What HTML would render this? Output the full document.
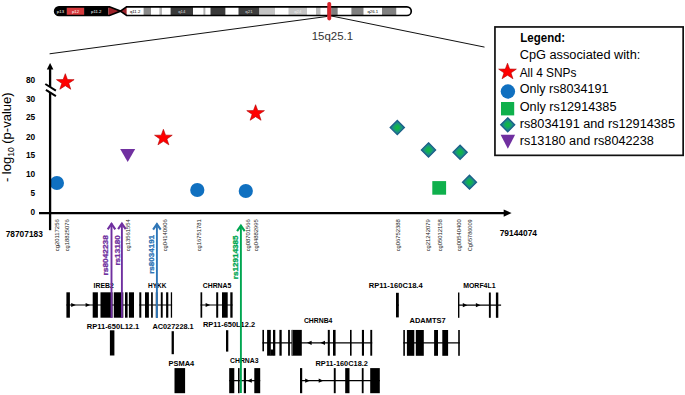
<!DOCTYPE html><html><head><meta charset="utf-8"><style>html,body{margin:0;padding:0;background:#fff;width:685px;height:395px;overflow:hidden}svg{display:block}text{font-family:"Liberation Sans",sans-serif}</style></head><body>
<svg width="685" height="395" viewBox="0 0 685 395">
<rect width="685" height="395" fill="#fff"/>
<defs><radialGradient id="dg" cx="0.5" cy="0.5" r="0.5"><stop offset="0" stop-color="#0fba48"/><stop offset="0.22" stop-color="#12b44b"/><stop offset="0.62" stop-color="#1a9184"/><stop offset="1" stop-color="#1c6f8e"/></radialGradient></defs>
<defs><clipPath id="chr"><path d="M59,6.8 H109.5 L120.4,11.1 L126.6,6.8 H406.9 A4.35,4.35 0 0 1 406.9,15.5 H126.6 L120.4,11.1 L109.5,15.5 H59 A4.35,4.35 0 0 1 59,6.8 Z"/></clipPath></defs>
<g clip-path="url(#chr)">
<rect x="54" y="5" width="12.90" height="12" fill="#000"/>
<rect x="66.9" y="5" width="17.20" height="12" fill="#d63a3d"/>
<rect x="84.1" y="5" width="24.30" height="12" fill="#000"/>
<rect x="126.6" y="5" width="17.00" height="12" fill="#fff"/>
<rect x="143.6" y="5" width="7.40" height="12" fill="#8a8a8a"/>
<rect x="151" y="5" width="8.40" height="12" fill="#fff"/>
<rect x="159.4" y="5" width="2.60" height="12" fill="#b4b4b4"/>
<rect x="162" y="5" width="8.60" height="12" fill="#fff"/>
<rect x="170.6" y="5" width="22.40" height="12" fill="#3a3a3a"/>
<rect x="193" y="5" width="10.40" height="12" fill="#fff"/>
<rect x="203.4" y="5" width="2.20" height="12" fill="#b0b0b0"/>
<rect x="205.6" y="5" width="4.90" height="12" fill="#fff"/>
<rect x="210.5" y="5" width="15.10" height="12" fill="#3a3a3a"/>
<rect x="225.6" y="5" width="12.40" height="12" fill="#fff"/>
<rect x="238.5" y="5" width="20.90" height="12" fill="#3e3e3e"/>
<rect x="259.6" y="5" width="15.40" height="12" fill="#c4c4c4"/>
<rect x="275" y="5" width="13.50" height="12" fill="#fff"/>
<rect x="288.5" y="5" width="18.50" height="12" fill="#c4c4c4"/>
<rect x="307" y="5" width="9.00" height="12" fill="#fff"/>
<rect x="316" y="5" width="4.70" height="12" fill="#bababa"/>
<rect x="320.7" y="5" width="6.60" height="12" fill="#fff"/>
<rect x="327.3" y="5" width="3.90" height="12" fill="#7f7f7f"/>
<rect x="331.2" y="5" width="6.60" height="12" fill="#7f7f7f"/>
<rect x="337.8" y="5" width="13.60" height="12" fill="#fff"/>
<rect x="351.4" y="5" width="12.30" height="12" fill="#808080"/>
<rect x="363.7" y="5" width="18.30" height="12" fill="#fff"/>
<rect x="382" y="5" width="14.50" height="12" fill="#808080"/>
<rect x="396.5" y="5" width="15.50" height="12" fill="#fff"/>
<polygon points="108.4,5 120.4,11 108.4,17" fill="#9c2229"/>
<polygon points="120.4,11 126.6,5 126.6,17" fill="#9c2229"/>
</g>
<text x="60.45" y="12.8" font-size="4.3" font-weight="normal" fill="#fff" text-anchor="middle" >p13</text>
<text x="75.5" y="12.8" font-size="4.3" font-weight="normal" fill="#fff" text-anchor="middle" >p12</text>
<text x="96.25" y="12.8" font-size="4.3" font-weight="normal" fill="#fff" text-anchor="middle" >p11.2</text>
<text x="135.1" y="12.8" font-size="4.3" font-weight="normal" fill="#000" text-anchor="middle" >q11.2</text>
<text x="181.8" y="12.8" font-size="4.3" font-weight="normal" fill="#ddd" text-anchor="middle" >q14</text>
<text x="248.95" y="12.8" font-size="4.3" font-weight="normal" fill="#ddd" text-anchor="middle" >q21</text>
<text x="297.75" y="12.8" font-size="4.3" font-weight="normal" fill="#eee" text-anchor="middle" >q24</text>
<text x="372.85" y="12.8" font-size="4.3" font-weight="normal" fill="#000" text-anchor="middle" >q26.1</text>
<path d="M59,6.8 H109.5 L120.4,11.1 L126.6,6.8 H406.9 A4.35,4.35 0 0 1 406.9,15.5 H126.6 L120.4,11.1 L109.5,15.5 H59 A4.35,4.35 0 0 1 59,6.8 Z" fill="none" stroke="#000" stroke-width="1.7"/>
<line x1="327.5" y1="16.4" x2="49.6" y2="53.8" stroke="#111" stroke-width="1"/>
<line x1="330.5" y1="15.8" x2="484.5" y2="47.1" stroke="#111" stroke-width="1"/>
<rect x="327.3" y="2" width="3.9" height="18.4" rx="1.8" fill="#d9252d"/>
<text x="311.7" y="40.2" font-size="11.5" font-weight="normal" fill="#333" text-anchor="start" textLength="41.4" lengthAdjust="spacingAndGlyphs" >15q25.1</text>
<polygon points="65.30,73.70 67.46,79.55 74.13,79.64 68.79,83.35 70.76,89.26 65.30,85.70 59.84,89.26 61.81,83.35 56.47,79.64 63.14,79.55" fill="#f00" stroke="#b00000" stroke-width="0.6"/>
<polygon points="163.40,129.30 165.56,135.15 172.23,135.24 166.89,138.95 168.86,144.86 163.40,141.30 157.94,144.86 159.91,138.95 154.57,135.24 161.24,135.15" fill="#f00" stroke="#b00000" stroke-width="0.6"/>
<polygon points="255.60,104.70 257.76,110.55 264.43,110.64 259.09,114.35 261.06,120.26 255.60,116.70 250.14,120.26 252.11,114.35 246.77,110.64 253.44,110.55" fill="#f00" stroke="#b00000" stroke-width="0.6"/>
<circle cx="56.9" cy="183" r="7.1" fill="#1070c0"/>
<circle cx="197.3" cy="190" r="7.1" fill="#1070c0"/>
<circle cx="245.8" cy="191" r="7.1" fill="#1070c0"/>
<polygon points="120.2,149 135.2,149 127.69999999999999,162.1" fill="#7030a0"/>
<polygon points="397.3,120.5 404.40000000000003,127.6 397.3,134.7 390.2,127.6" fill="url(#dg)" stroke="#1c5f88" stroke-width="1.3" stroke-linejoin="miter"/>
<polygon points="428.5,142.8 435.6,149.9 428.5,157.0 421.4,149.9" fill="url(#dg)" stroke="#1c5f88" stroke-width="1.3" stroke-linejoin="miter"/>
<polygon points="460.1,145.20000000000002 467.20000000000005,152.3 460.1,159.4 453.0,152.3" fill="url(#dg)" stroke="#1c5f88" stroke-width="1.3" stroke-linejoin="miter"/>
<polygon points="469.5,175.2 476.5,182.2 469.5,189.2 462.5,182.2" fill="url(#dg)" stroke="#1c5f88" stroke-width="1.3" stroke-linejoin="miter"/>
<rect x="432.3" y="181.1" width="13.8" height="13.6" fill="#0fb04c"/>
<line x1="50.1" y1="68" x2="50.1" y2="87" stroke="#000" stroke-width="2.3"/>
<line x1="50.1" y1="92.5" x2="50.1" y2="230.2" stroke="#000" stroke-width="2.3"/>
<polygon points="50.1,63 46.8,69.6 53.4,69.6" fill="#000"/>
<line x1="45.3" y1="84" x2="55.9" y2="90.6" stroke="#000" stroke-width="2"/>
<line x1="45.9" y1="89.8" x2="55.9" y2="96.2" stroke="#000" stroke-width="2"/>
<line x1="39" y1="213.1" x2="505" y2="213.1" stroke="#000" stroke-width="2.4"/>
<polygon points="511.6,213.1 503.7,209.5 503.7,216.7" fill="#000"/>
<text x="35.2" y="82.5" font-size="9.5" font-weight="bold" fill="#000" text-anchor="end" textLength="9.3" lengthAdjust="spacingAndGlyphs" >80</text>
<text x="35.2" y="101.7" font-size="9.5" font-weight="bold" fill="#000" text-anchor="end" textLength="9.3" lengthAdjust="spacingAndGlyphs" >30</text>
<text x="35.2" y="120.0" font-size="9.5" font-weight="bold" fill="#000" text-anchor="end" textLength="9.3" lengthAdjust="spacingAndGlyphs" >25</text>
<text x="35.2" y="139.5" font-size="9.5" font-weight="bold" fill="#000" text-anchor="end" textLength="9.3" lengthAdjust="spacingAndGlyphs" >20</text>
<text x="35.2" y="158.4" font-size="9.5" font-weight="bold" fill="#000" text-anchor="end" textLength="9.3" lengthAdjust="spacingAndGlyphs" >15</text>
<text x="35.2" y="177.0" font-size="9.5" font-weight="bold" fill="#000" text-anchor="end" textLength="9.3" lengthAdjust="spacingAndGlyphs" >10</text>
<text x="35.2" y="196.4" font-size="9.5" font-weight="bold" fill="#000" text-anchor="end" textLength="4.6" lengthAdjust="spacingAndGlyphs" >5</text>
<text x="35.2" y="215.4" font-size="9.5" font-weight="bold" fill="#000" text-anchor="end" textLength="4.6" lengthAdjust="spacingAndGlyphs" >0</text>
<text x="0" y="0" transform="translate(11.4,182.1) rotate(-90)" font-size="13" fill="#000">- log<tspan font-size="8.5" dy="3">10</tspan><tspan dy="-3"> (p-value)</tspan></text>
<text x="5.7" y="236.9" font-size="9.6" font-weight="bold" fill="#000" text-anchor="start" textLength="37.1" lengthAdjust="spacingAndGlyphs" >78707183</text>
<text x="499.7" y="236.1" font-size="9.6" font-weight="bold" fill="#000" text-anchor="start" textLength="37.3" lengthAdjust="spacingAndGlyphs" >79144074</text>
<text x="0" y="0" transform="translate(59.33,251.30) rotate(-90)" font-size="6.2" font-weight="normal" fill="#1a1a1a" textLength="32" lengthAdjust="spacingAndGlyphs">cg20117256</text>
<text x="0" y="0" transform="translate(68.83,251.30) rotate(-90)" font-size="6.2" font-weight="normal" fill="#1a1a1a" textLength="32" lengthAdjust="spacingAndGlyphs">cg18825076</text>
<text x="0" y="0" transform="translate(130.03,251.30) rotate(-90)" font-size="6.2" font-weight="normal" fill="#1a1a1a" textLength="32" lengthAdjust="spacingAndGlyphs">cg13561554</text>
<text x="0" y="0" transform="translate(167.03,251.30) rotate(-90)" font-size="6.2" font-weight="normal" fill="#1a1a1a" textLength="32" lengthAdjust="spacingAndGlyphs">cg04140906</text>
<text x="0" y="0" transform="translate(200.53,251.30) rotate(-90)" font-size="6.2" font-weight="normal" fill="#1a1a1a" textLength="32" lengthAdjust="spacingAndGlyphs">cg16751781</text>
<text x="0" y="0" transform="translate(249.63,251.30) rotate(-90)" font-size="6.2" font-weight="normal" fill="#1a1a1a" textLength="32" lengthAdjust="spacingAndGlyphs">cg08701566</text>
<text x="0" y="0" transform="translate(258.33,251.30) rotate(-90)" font-size="6.2" font-weight="normal" fill="#1a1a1a" textLength="32" lengthAdjust="spacingAndGlyphs">cg04882995</text>
<text x="0" y="0" transform="translate(400.33,251.30) rotate(-90)" font-size="6.2" font-weight="normal" fill="#1a1a1a" textLength="32" lengthAdjust="spacingAndGlyphs">cg06752388</text>
<text x="0" y="0" transform="translate(429.83,251.30) rotate(-90)" font-size="6.2" font-weight="normal" fill="#1a1a1a" textLength="32" lengthAdjust="spacingAndGlyphs">cg21242079</text>
<text x="0" y="0" transform="translate(442.13,251.30) rotate(-90)" font-size="6.2" font-weight="normal" fill="#1a1a1a" textLength="32" lengthAdjust="spacingAndGlyphs">cg05012158</text>
<text x="0" y="0" transform="translate(461.03,251.30) rotate(-90)" font-size="6.2" font-weight="normal" fill="#1a1a1a" textLength="32" lengthAdjust="spacingAndGlyphs">cg00540400</text>
<text x="0" y="0" transform="translate(471.83,251.30) rotate(-90)" font-size="6.2" font-weight="normal" fill="#1a1a1a" textLength="32" lengthAdjust="spacingAndGlyphs">Cg05786009</text>
<line x1="66.4" y1="305.0" x2="134" y2="305.0" stroke="#000" stroke-width="1.2"/><rect x="66.4" y="292.3" width="3.50" height="25.40" fill="#000"/><rect x="92.7" y="292.3" width="5.20" height="25.40" fill="#000"/><rect x="100.5" y="292.3" width="12.00" height="25.40" fill="#000"/><rect x="113.8" y="292.3" width="9.50" height="25.40" fill="#000"/><rect x="125" y="292.3" width="2.60" height="25.40" fill="#000"/><rect x="128.9" y="292.3" width="5.10" height="25.40" fill="#000"/><polygon points="75.8,305.0 71.2,302.9 71.2,307.1" fill="#000"/><polygon points="90.2,305.0 85.60000000000001,302.9 85.60000000000001,307.1" fill="#000"/>
<line x1="139.3" y1="305.0" x2="172.1" y2="305.0" stroke="#000" stroke-width="1.2"/><rect x="139.3" y="292.3" width="2.00" height="25.40" fill="#000"/><rect x="145" y="292.3" width="3.90" height="25.40" fill="#000"/><rect x="151.1" y="292.3" width="1.70" height="25.40" fill="#000"/><rect x="155.8" y="292.3" width="1.70" height="25.40" fill="#000"/><rect x="160.8" y="292.3" width="1.90" height="25.40" fill="#000"/><rect x="166.1" y="292.3" width="2.20" height="25.40" fill="#000"/><rect x="170.8" y="292.3" width="1.30" height="25.40" fill="#000"/>
<line x1="200.5" y1="305.0" x2="232.6" y2="305.0" stroke="#000" stroke-width="1.2"/><rect x="200.5" y="292.3" width="1.70" height="25.40" fill="#000"/><rect x="216.2" y="292.3" width="2.00" height="25.40" fill="#000"/><rect x="222" y="292.3" width="5.70" height="25.40" fill="#000"/><rect x="230.3" y="292.3" width="2.30" height="25.40" fill="#000"/><polygon points="210.2,305.0 205.6,302.9 205.6,307.1" fill="#000"/>
<line x1="396" y1="305.1" x2="398.8" y2="305.1" stroke="#000" stroke-width="1.2"/><rect x="396" y="292.8" width="2.80" height="24.60" fill="#000"/>
<line x1="458" y1="305.15" x2="501.1" y2="305.15" stroke="#000" stroke-width="1.2"/><rect x="458" y="292.5" width="1.40" height="25.30" fill="#000"/><rect x="488.9" y="292.5" width="1.90" height="25.30" fill="#000"/><rect x="495.9" y="292.5" width="2.40" height="25.30" fill="#000"/><polygon points="467.4,305.15 462.79999999999995,303.04999999999995 462.79999999999995,307.25" fill="#000"/><polygon points="480.5,305.15 475.9,303.04999999999995 475.9,307.25" fill="#000"/>
<rect x="109.9" y="330.3" width="4.5" height="25.2" fill="#000"/>
<rect x="171.6" y="331.2" width="2.3" height="23" fill="#000"/>
<rect x="226" y="330.2" width="2.3" height="21.4" fill="#000"/>
<line x1="262.4" y1="342.79999999999995" x2="372.2" y2="342.79999999999995" stroke="#000" stroke-width="1.2"/><rect x="267.1" y="329.9" width="3.70" height="25.80" fill="#000"/><rect x="273" y="329.9" width="2.30" height="25.80" fill="#000"/><rect x="279.4" y="329.9" width="2.30" height="25.80" fill="#000"/><rect x="288.1" y="329.9" width="1.80" height="25.80" fill="#000"/><rect x="291.5" y="329.9" width="10.30" height="25.80" fill="#000"/><rect x="327.8" y="329.9" width="2.00" height="25.80" fill="#000"/><rect x="333" y="329.9" width="2.60" height="25.80" fill="#000"/><rect x="350" y="329.9" width="1.60" height="25.80" fill="#000"/><rect x="361.9" y="329.9" width="2.10" height="25.80" fill="#000"/><rect x="370.3" y="329.9" width="1.90" height="25.80" fill="#000"/><polygon points="307,342.79999999999995 311.6,340.69999999999993 311.6,344.9" fill="#000"/><polygon points="320.4,342.79999999999995 325.0,340.69999999999993 325.0,344.9" fill="#000"/>
<rect x="262.4" y="329.9" width="1.6" height="21.4" fill="#000"/>
<rect x="270.5" y="349.5" width="2.8" height="6.2" fill="#000"/>
<rect x="292.3" y="329.9" width="0.6" height="25.8" fill="#888"/>
<line x1="403.3" y1="342.9" x2="459.8" y2="342.9" stroke="#000" stroke-width="1.2"/><rect x="403.3" y="330" width="1.60" height="25.80" fill="#000"/><rect x="406.9" y="330" width="7.40" height="25.80" fill="#000"/><rect x="415.8" y="330" width="8.00" height="25.80" fill="#000"/><rect x="434.1" y="330" width="3.90" height="25.80" fill="#000"/><rect x="442.3" y="330" width="5.80" height="25.80" fill="#000"/><rect x="458.2" y="330" width="1.60" height="25.80" fill="#000"/>
<rect x="174.5" y="368.1" width="10.6" height="25.1" fill="#000"/>
<line x1="229.2" y1="380.65" x2="260.2" y2="380.65" stroke="#000" stroke-width="1.2"/><rect x="229.2" y="368.1" width="5.10" height="25.10" fill="#000"/><rect x="238" y="368.1" width="1.60" height="25.10" fill="#000"/><rect x="243.8" y="368.1" width="2.20" height="25.10" fill="#000"/><rect x="254.3" y="368.1" width="5.90" height="25.10" fill="#000"/><polygon points="247.2,380.65 251.79999999999998,378.54999999999995 251.79999999999998,382.75" fill="#000"/>
<line x1="300" y1="380.65" x2="379.8" y2="380.65" stroke="#000" stroke-width="1.2"/><rect x="300" y="368.1" width="2.20" height="25.10" fill="#000"/><rect x="333.8" y="368.1" width="1.90" height="25.10" fill="#000"/><rect x="345.2" y="368.1" width="4.30" height="25.10" fill="#000"/><rect x="361.8" y="368.1" width="1.80" height="25.10" fill="#000"/><rect x="370.2" y="368.1" width="9.60" height="25.10" fill="#000"/><polygon points="309.8,380.65 305.2,378.54999999999995 305.2,382.75" fill="#000"/><polygon points="323.3,380.65 318.7,378.54999999999995 318.7,382.75" fill="#000"/>
<text x="93.6" y="287.6" font-size="8" font-weight="bold" fill="#000" text-anchor="start" textLength="20.2" lengthAdjust="spacingAndGlyphs" >IREB2</text>
<text x="148" y="287.6" font-size="8" font-weight="bold" fill="#000" text-anchor="start" textLength="18.3" lengthAdjust="spacingAndGlyphs" >HYKK</text>
<text x="202.8" y="287.6" font-size="8" font-weight="bold" fill="#000" text-anchor="start" textLength="28.5" lengthAdjust="spacingAndGlyphs" >CHRNA5</text>
<text x="368.8" y="288.0" font-size="8" font-weight="bold" fill="#000" text-anchor="start" textLength="53.9" lengthAdjust="spacingAndGlyphs" >RP11-160C18.4</text>
<text x="463.2" y="288.0" font-size="8" font-weight="bold" fill="#000" text-anchor="start" textLength="32.4" lengthAdjust="spacingAndGlyphs" >MORF4L1</text>
<text x="86.8" y="328.8" font-size="8" font-weight="bold" fill="#000" text-anchor="start" textLength="52.5" lengthAdjust="spacingAndGlyphs" >RP11-650L12.1</text>
<text x="152.4" y="329.1" font-size="8" font-weight="bold" fill="#000" text-anchor="start" textLength="41.3" lengthAdjust="spacingAndGlyphs" >AC027228.1</text>
<text x="203" y="326.6" font-size="8" font-weight="bold" fill="#000" text-anchor="start" textLength="52.1" lengthAdjust="spacingAndGlyphs" >RP11-650L12.2</text>
<text x="303.9" y="323.40000000000003" font-size="8" font-weight="bold" fill="#000" text-anchor="start" textLength="28.5" lengthAdjust="spacingAndGlyphs" >CHRNB4</text>
<text x="409.5" y="323.40000000000003" font-size="8" font-weight="bold" fill="#000" text-anchor="start" textLength="36.2" lengthAdjust="spacingAndGlyphs" >ADAMTS7</text>
<text x="168.6" y="365.5" font-size="8" font-weight="bold" fill="#000" text-anchor="start" textLength="25.6" lengthAdjust="spacingAndGlyphs" >PSMA4</text>
<text x="230" y="363.1" font-size="8" font-weight="bold" fill="#000" text-anchor="start" textLength="28.6" lengthAdjust="spacingAndGlyphs" >CHRNA3</text>
<text x="315.4" y="365.7" font-size="8" font-weight="bold" fill="#000" text-anchor="start" textLength="52.5" lengthAdjust="spacingAndGlyphs" >RP11-160C18.2</text>
<line x1="111.5" y1="223.3" x2="111.5" y2="318" stroke="#7030a0" stroke-width="1.9"/><polyline points="107.7,229.3 111.5,223.8 115.3,229.3" fill="none" stroke="#7030a0" stroke-width="2.1" stroke-linejoin="miter" stroke-miterlimit="10"/>
<line x1="121.9" y1="223.1" x2="121.9" y2="318" stroke="#7030a0" stroke-width="1.9"/><polyline points="118.10000000000001,229.1 121.9,223.6 125.7,229.1" fill="none" stroke="#7030a0" stroke-width="2.1" stroke-linejoin="miter" stroke-miterlimit="10"/>
<line x1="156.9" y1="223.6" x2="156.9" y2="318" stroke="#2e75b6" stroke-width="1.9"/><polyline points="153.1,229.6 156.9,224.1 160.70000000000002,229.6" fill="none" stroke="#2e75b6" stroke-width="2.1" stroke-linejoin="miter" stroke-miterlimit="10"/>
<line x1="240.9" y1="225.2" x2="240.9" y2="393" stroke="#00a651" stroke-width="1.9"/><polyline points="237.1,231.2 240.9,225.7 244.70000000000002,231.2" fill="none" stroke="#00a651" stroke-width="2.1" stroke-linejoin="miter" stroke-miterlimit="10"/>
<text x="0" y="0" transform="translate(108.40,275.40) rotate(-90)" font-size="7.9" font-weight="bold" fill="#7030a0" textLength="40.2" lengthAdjust="spacingAndGlyphs" stroke="#7030a0" stroke-width="0.3">rs8042238</text>
<text x="0" y="0" transform="translate(119.50,265.60) rotate(-90)" font-size="7.9" font-weight="bold" fill="#7030a0" textLength="30.4" lengthAdjust="spacingAndGlyphs" stroke="#7030a0" stroke-width="0.3">rs13180</text>
<text x="0" y="0" transform="translate(154.10,273.80) rotate(-90)" font-size="7.9" font-weight="bold" fill="#2e75b6" textLength="38.9" lengthAdjust="spacingAndGlyphs" stroke="#2e75b6" stroke-width="0.3">rs8034191</text>
<text x="0" y="0" transform="translate(238.40,279.20) rotate(-90)" font-size="7.9" font-weight="bold" fill="#00a651" textLength="43.8" lengthAdjust="spacingAndGlyphs" stroke="#00a651" stroke-width="0.3">rs12914385</text>
<rect x="494.95" y="26.95" width="188.2" height="128.4" fill="#fff" stroke="#111" stroke-width="1.7"/>
<text x="520.3" y="41.8" font-size="12.5" font-weight="bold" fill="#000" text-anchor="start" textLength="44.7" lengthAdjust="spacingAndGlyphs" >Legend:</text>
<text x="519.7" y="59.099999999999994" font-size="12.5" font-weight="normal" fill="#000" text-anchor="start" textLength="120.6" lengthAdjust="spacingAndGlyphs" >CpG associated with:</text>
<text x="519.7" y="76.8" font-size="12.5" font-weight="normal" fill="#000" text-anchor="start" textLength="56.8" lengthAdjust="spacingAndGlyphs" >All 4 SNPs</text>
<text x="519.7" y="93.39999999999999" font-size="12.5" font-weight="normal" fill="#000" text-anchor="start" textLength="88.7" lengthAdjust="spacingAndGlyphs" >Only rs8034191</text>
<text x="519.7" y="110.5" font-size="12.5" font-weight="normal" fill="#000" text-anchor="start" textLength="96.8" lengthAdjust="spacingAndGlyphs" >Only rs12914385</text>
<text x="519.7" y="128.20000000000002" font-size="12.5" font-weight="normal" fill="#000" text-anchor="start" textLength="155.3" lengthAdjust="spacingAndGlyphs" >rs8034191 and rs12914385</text>
<text x="519.7" y="144.9" font-size="12.5" font-weight="normal" fill="#000" text-anchor="start" textLength="134.1" lengthAdjust="spacingAndGlyphs" >rs13180 and rs8042238</text>
<polygon points="507.50,63.20 509.66,69.05 516.33,69.14 510.99,72.85 512.96,78.76 507.50,75.20 502.04,78.76 504.01,72.85 498.67,69.14 505.34,69.05" fill="#f00" stroke="#b00000" stroke-width="0.6"/>
<circle cx="507.9" cy="91.5" r="7.2" fill="#1070c0"/>
<rect x="501" y="102" width="13.2" height="13.4" fill="#0fb04c"/>
<polygon points="507.7,117.8 514.7,124.8 507.7,131.8 500.7,124.8" fill="url(#dg)" stroke="#1c5f88" stroke-width="1.3" stroke-linejoin="miter"/>
<polygon points="500.6,134.8 515.1,134.8 507.85,148.7" fill="#7030a0"/>
</svg></body></html>
